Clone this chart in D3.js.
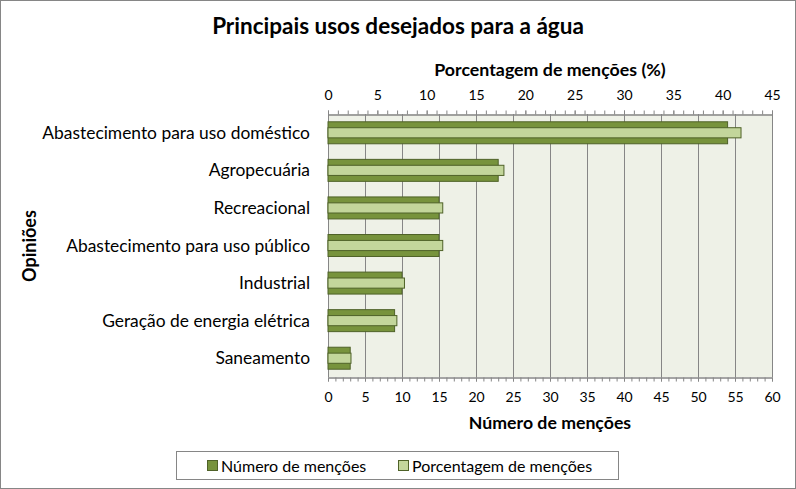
<!DOCTYPE html>
<html><head><meta charset="utf-8">
<script src="https://cdn.jsdelivr.net/npm/d3@7"></script>
<style>
html,body{margin:0;padding:0;background:#fff;}
text{font-family:Lato, "Open Sans", sans-serif;fill:#000;}
</style></head>
<body><svg id="c" width="796" height="489"></svg>
<script>
const categories = ["Abastecimento para uso doméstico","Agropecuária","Recreacional","Abastecimento para uso público","Industrial","Geração de energia elétrica","Saneamento"];
const mentions = [54, 23, 15, 15, 10, 9, 3];
const percent = [41.86, 17.83, 11.63, 11.63, 7.75, 6.98, 2.33];
const bottomTicks = [0,5,10,15,20,25,30,35,40,45,50,55,60];
const topTicks = [0,5,10,15,20,25,30,35,40,45];
const seriesNames = ["Número de menções","Porcentagem de menções"];

const svg = d3.select("#c");
const L=328, R=772, T=114, B=377;
const xB = d3.scaleLinear().domain([0,60]).range([L,R]);
const xT = d3.scaleLinear().domain([0,45]).range([L,R]);
const y = d3.scaleBand().domain(categories).range([T,B]);
const dark="#77933C", light="#C3D69B", edge="#4F6228", grid="#868686";

svg.append("rect").attr("x",0.5).attr("y",0.5).attr("width",795).attr("height",488).attr("fill","#fff").attr("stroke",grid);
svg.append("rect").attr("x",L).attr("y",T).attr("width",R-L).attr("height",B-T).attr("fill","#EEF1E7");

svg.append("g").selectAll("line").data(bottomTicks).join("line")
  .attr("x1",d=>Math.round(xB(d))+0.5).attr("x2",d=>Math.round(xB(d))+0.5)
  .attr("y1",T).attr("y2",B).attr("stroke",grid);

function styleAxis(g){g.select(".domain").attr("stroke",grid);g.selectAll(".tick line").attr("stroke",grid);g.selectAll("text").attr("font-size",14).attr("fill","#000");}

// top axis
svg.append("g").attr("transform",`translate(0,${T+0.5})`)
  .call(d3.axisTop(xT).tickValues(d3.range(0,46,1)).tickSize(4).tickFormat("").tickSizeOuter(0)).call(styleAxis);
svg.append("g").attr("transform",`translate(0,${T+0.5})`)
  .call(d3.axisTop(xT).tickValues(topTicks).tickSize(4).tickPadding(11).tickSizeOuter(0)).call(styleAxis);
// bottom axis
svg.append("g").attr("transform",`translate(0,${B+0.5})`)
  .call(d3.axisBottom(xB).tickValues(d3.range(0,61,1)).tickSize(4).tickFormat("").tickSizeOuter(0)).call(styleAxis);
svg.append("g").attr("transform",`translate(0,${B+0.5})`)
  .call(d3.axisBottom(xB).tickValues(bottomTicks).tickSize(4).tickPadding(11).tickSizeOuter(0)).call(styleAxis);

const bw = y.bandwidth();
svg.append("g").selectAll("rect").data(categories).join("rect")
  .attr("x",L).attr("y",(d)=>y(d)+bw/2-bw*0.585/2)
  .attr("width",(d,i)=>xB(mentions[i])-L).attr("height",bw*0.585)
  .attr("fill",dark).attr("stroke",edge).attr("stroke-width",1);
svg.append("g").selectAll("rect").data(categories).join("rect")
  .attr("x",L).attr("y",(d)=>y(d)+bw/2-bw*0.27/2)
  .attr("width",(d,i)=>xT(percent[i])-L).attr("height",bw*0.27)
  .attr("fill",light).attr("stroke",edge).attr("stroke-width",1);

// category labels
svg.append("g").selectAll("text").data(categories).join("text")
  .attr("x",310).attr("y",d=>y(d)+bw/2).attr("dy","0.35em")
  .attr("text-anchor","end").attr("font-size",17.4).text(d=>d);

svg.append("text").attr("x",398).attr("y",26).attr("dy","0.35em").attr("text-anchor","middle")
  .attr("font-size",22.5).attr("font-weight","bold").text("Principais usos desejados para a água");
svg.append("text").attr("x",550).attr("y",70).attr("dy","0.35em").attr("text-anchor","middle")
  .attr("font-size",17.8).attr("font-weight","bold").text("Porcentagem de menções (%)");
svg.append("text").attr("x",550).attr("y",423).attr("dy","0.35em").attr("text-anchor","middle")
  .attr("font-size",17.7).attr("font-weight","bold").text("Número de menções");
svg.append("text").attr("transform","translate(30,246) rotate(-90)").attr("dy","0.35em").attr("text-anchor","middle")
  .attr("font-size",18).attr("font-weight","bold").text("Opiniões");

// legend
svg.append("rect").attr("x",176.5).attr("y",451.5).attr("width",442).attr("height",28).attr("fill","#fff").attr("stroke",grid);
const lg = svg.append("g").selectAll("g").data(seriesNames).join("g")
  .attr("transform",(d,i)=>`translate(${i===0?207:398},460)`);
lg.append("rect").attr("x",0.5).attr("y",0.5).attr("width",10).attr("height",10)
  .attr("fill",(d,i)=>i===0?dark:light).attr("stroke",edge);
lg.append("text").attr("x",14).attr("y",6).attr("dy","0.35em").attr("font-size",16).text(d=>d);
</script></body></html>
